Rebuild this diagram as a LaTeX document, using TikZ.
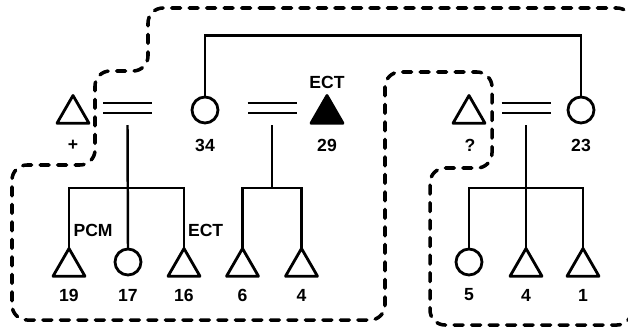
\documentclass[tikz,border=0pt]{standalone}
\usepackage{fontspec}
\setmainfont{Liberation Sans}
\usetikzlibrary{shapes.geometric}
\tikzset{
  tri/.style={regular polygon, regular polygon sides=3, draw, line width=1.6pt,
    line join=round, minimum size=0.74cm, inner sep=0pt, outer sep=0pt},
  ftri/.style={tri, fill=black},
  ring/.style={circle, draw, line width=1.6pt, minimum size=0.52cm,
    inner sep=0pt, outer sep=0pt},
  coupler/.style={line width=1.3pt, double distance=0.15cm},
  boundary/.style={line width=2pt, line cap=round,
    dash pattern=on 0.18cm off 0.17cm, rounded corners=0.3cm},
}

\begin{document}
\begin{tikzpicture}[line width=1.4pt, font=\fontsize{10}{12}\selectfont\bfseries]
      \useasboundingbox (0, 0) rectangle (12.56, 6.54);
      \clip (0, 0) rectangle (12.56, 6.54);

      % upper row
      \node [tri] (tplus) at (1.46, 4.26) {};
      \node [ring] (c34) at (4.1, 4.34) {};
      \node [ftri] (t29) at (6.54, 4.26) {};
      \node [tri] (tq) at (9.38, 4.26) {};
      \node [ring] (c23) at (11.62, 4.34) {};

      \node (lplus) at (1.46, 3.64) {+};
      \node (l34) at (4.1, 3.64) {34};
      \node (l29) at (6.54, 3.64) {29};
      \node (lq) at (9.4, 3.64) {?};
      \node (l23) at (11.62, 3.64) {23};
      \node (ect29) at (6.54, 4.9) {ECT};

      \coordinate (b1) at (2.55, 4.38);
      \coordinate (b2) at (5.44, 4.38);
      \coordinate (b3) at (10.52, 4.38);
      \draw [coupler] ([xshift=-0.49cm]b1) -- ([xshift=0.49cm]b1);
      \draw [coupler] ([xshift=-0.49cm]b2) -- ([xshift=0.49cm]b2);
      \draw [coupler] ([xshift=-0.49cm]b3) -- ([xshift=0.49cm]b3);

      \draw (c34.north) -- ++(0, 1.23) -| (c23.north);

      % lower row
      \node [tri] (t19) at (1.38, 1.2) {};
      \node [ring] (c17) at (2.56, 1.3) {};
      \node [tri] (t16) at (3.68, 1.2) {};
      \node [tri] (t6) at (4.85, 1.2) {};
      \node [tri] (t4) at (6.03, 1.2) {};
      \node [ring] (c5) at (9.38, 1.3) {};
      \node [tri] (t4r) at (10.52, 1.2) {};
      \node [tri] (t1) at (11.66, 1.2) {};

      \node (l19) at (1.38, 0.64) {19};
      \node (l17) at (2.56, 0.64) {17};
      \node (l16) at (3.68, 0.64) {16};
      \node (l6) at (4.85, 0.64) {6};
      \node (l4) at (6.03, 0.64) {4};
      \node (l5) at (9.38, 0.64) {5};
      \node (l4r) at (10.52, 0.64) {4};
      \node (l1) at (11.66, 0.64) {1};
      \node [anchor = west] (pcm19) at (1.33, 1.94) {PCM};
      \node [anchor = west] (ect16) at (3.62, 1.94) {ECT};

      \coordinate (j1) at (2.56, 2.78);
      \coordinate (j2) at (5.44, 2.78);
      \coordinate (j3) at (10.52, 2.78);
      \draw ([yshift=-0.34cm]b1) -- (c17.north);
      \draw (t19.north) |- (j1) -| (t16.north);
      \draw ([yshift=-0.34cm]b2) -- (j2);
      \draw (t6.north) |- (j2) -| (t4.north);
      \draw ([yshift=-0.34cm]b3) -- (t4r.north);
      \draw (c5.north) |- (j3) -| (t1.north);

      % dashed boundary
      \draw [boundary] (5, 6.38) -- (12.64, 6.38) -- (12.64, 0.04) -- (8.6, 0.04)
        -- (8.6, 3.18) -- (9.84, 3.18) -- (9.84, 5.1) -- (7.7, 5.1) -- (7.7, 0.14)
        -- (0.24, 0.14) -- (0.24, 3.24) -- (1.9, 3.24) -- (1.9, 5.12)
        -- (2.96, 5.12) -- (2.96, 6.38) -- cycle;
\end{tikzpicture}
\end{document}
